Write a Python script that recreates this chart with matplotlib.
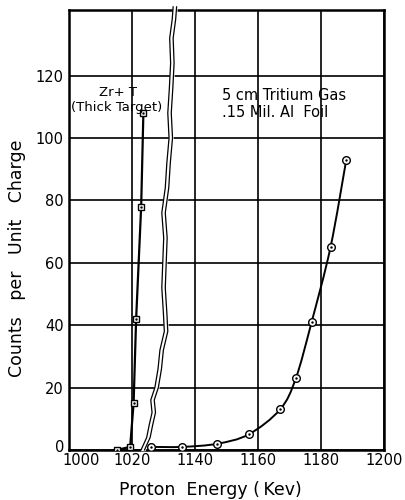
import numpy as np
import matplotlib.pyplot as plt
import matplotlib.transforms as mtransforms
from matplotlib.path import Path
from matplotlib.patches import PathPatch

# Zr + T thick target (energies on the lower part of the broken axis)
thick_energy = [1015.1, 1019.4, 1020.5, 1021.3, 1022.9, 1023.6]
thick_counts = [0, 1, 15, 42, 78, 108]

# 5 cm tritium gas, .15 mil Al foil (energies on the upper part of the axis)
gas_energy = [1126, 1136, 1147, 1157, 1167, 1172, 1177, 1183, 1188]
gas_counts = [1, 1, 2, 5, 13, 23, 41, 65, 93]

# the axis jumps from 1020 straight to 1140
axis_shift = 100
tick_pos = [1000, 1020, 1040, 1060, 1080, 1100]
tick_text = ['1000', '1020', '1140', '1160', '1180', '1200']
y_ticks = [0, 20, 40, 60, 80, 100, 120]

# hand drawn axis break (band centre, in axis units)
break_y = [0, 4, 8, 12, 16, 20, 26, 32, 38, 44, 52, 60, 68, 76, 84, 92, 100, 108, 116, 124, 132, 138, 142]
break_x = [1023.4, 1025.2, 1026.0, 1026.9, 1026.5, 1027.8, 1028.8, 1029.4, 1030.8, 1030.5, 1030.0,
           1030.3, 1030.6, 1030.0, 1031.1, 1031.6, 1032.3, 1031.9, 1032.4, 1032.8, 1032.5, 1033.3, 1033.6]


def smooth_path(x, y):
    """Catmull-Rom style bezier path through the given points."""
    pts = np.column_stack([x, y]).astype(float)
    verts = [pts[0]]
    codes = [Path.MOVETO]
    n = len(pts)
    for i in range(n - 1):
        p0 = pts[max(i - 1, 0)]
        p1 = pts[i]
        p2 = pts[i + 1]
        p3 = pts[min(i + 2, n - 1)]
        c1 = p1 + (p2 - p0) / 6.0
        c2 = p2 - (p3 - p1) / 6.0
        verts += [c1, c2, p2]
        codes += [Path.CURVE4] * 3
    return Path(verts, codes)


def make_plot():
    plt.rcParams['font.family'] = ['DejaVu Sans']
    fig = plt.figure(figsize=(4.06, 5.0), dpi=100)
    ax = fig.add_axes([0.170, 0.100, 0.776, 0.880])

    ax.set_xlim(1000, 1100)
    ax.set_ylim(0, 141)
    ax.set_xticks(tick_pos)
    ax.set_xticklabels(tick_text)
    ax.set_yticks(y_ticks)
    ax.tick_params(length=0, labelsize=10.5)
    ax.tick_params(axis='x', pad=2)
    ax.tick_params(axis='y', pad=4)
    ax.grid(True, color='black', linewidth=1.2)
    ax.set_axisbelow(True)
    for s in ax.spines.values():
        s.set_linewidth(1.8)

    # nudge the corner labels apart like the original lettering
    lab = ax.get_xticklabels()[0]
    lab.set_transform(lab.get_transform() + mtransforms.ScaledTranslation(12 / 100, 0, fig.dpi_scale_trans))
    lab = ax.get_yticklabels()[0]
    lab.set_transform(lab.get_transform() + mtransforms.ScaledTranslation(1 / 100, 4 / 100, fig.dpi_scale_trans))

    # thick target curve
    ax.plot(thick_energy, thick_counts, color='black', lw=1.6, zorder=4)
    ax.plot(thick_energy, thick_counts, 's', ms=4.5, mfc='white', mec='black', mew=1.0, zorder=5)
    ax.plot(thick_energy, thick_counts, '.', ms=1.5, color='black', zorder=6)

    # gas target curve
    gx = np.array(gas_energy) - axis_shift
    ax.add_patch(PathPatch(smooth_path(gx, gas_counts), fill=False, edgecolor='black', lw=1.4, zorder=4))
    ax.plot(gx, gas_counts, 'o', ms=5.5, mfc='white', mec='black', mew=1.0, zorder=5)
    ax.plot(gx, gas_counts, '.', ms=1.5, color='black', zorder=6)

    # axis break
    bx = np.array(break_x)
    ax.fill_betweenx(break_y, bx - 0.55, bx + 0.55, color='white', zorder=3, clip_on=False)
    ax.plot(bx - 0.55, break_y, color='black', lw=0.9, zorder=3.5, clip_on=False)
    ax.plot(bx + 0.55, break_y, color='black', lw=0.9, zorder=3.5, clip_on=False)

    ax.text(1015.6, 113.4, 'Zr+ T', ha='center', va='baseline', fontsize=9.5, zorder=6)
    ax.text(1015.2, 108.6, '(Thick Target)', ha='center', va='baseline', fontsize=9.5, zorder=6)
    ax.text(1048.5, 112, '5 cm Tritium Gas', ha='left', va='baseline', fontsize=10.5)
    ax.text(1048.5, 106.6, '.15 Mil. Al  Foil', ha='left', va='baseline', fontsize=10.5)

    ax.set_xlabel('Proton  Energy (\u2009Kev)', fontsize=12.5)
    ax.xaxis.set_label_coords(0.448, -0.071)
    ax.set_ylabel('Counts   per   Unit   Charge', fontsize=12.5)
    ax.yaxis.set_label_coords(-0.135, 0.436)

    fig.savefig('out.png', dpi=100)


if __name__ == '__main__':
    make_plot()
